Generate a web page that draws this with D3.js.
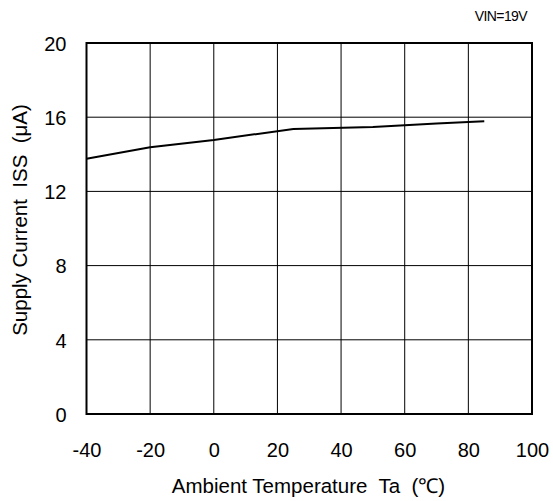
<!DOCTYPE html>
<html><head><meta charset="utf-8">
<script src="https://cdn.jsdelivr.net/npm/d3@7"></script>
<style>body{margin:0;background:#fff}svg{display:block}text{font-family:"Liberation Sans",Arial,sans-serif;fill:#000;white-space:pre}</style>
</head><body>
<svg id="c" width="553" height="501"></svg>
<script>
const temps = [-40, -20, 0, 25, 50, 70, 85];
const iss = [13.76, 14.38, 14.77, 15.37, 15.47, 15.66, 15.78];
const xTicks = [-40, -20, 0, 20, 40, 60, 80, 100];
const yTicks = [0, 4, 8, 12, 16, 20];
const xTitle = "Ambient Temperature  Ta  (\u2103)";
const yTitle = "Supply Current  ISS  (\u03bcA)";
const note = "VIN=19V";

const svg = d3.select("#c");
const L = 86.5, R = 532, T = 43, B = 414;
const x = d3.scaleLinear().domain([-40, 100]).range([L, R]);
const y = d3.scaleLinear().domain([0, 20]).range([B, T]);
const FF = '"Liberation Sans",Arial,sans-serif';

const g = svg.append("g");
g.selectAll("line.vx").data(xTicks).join("line")
  .attr("x1", d => x(d)).attr("x2", d => x(d)).attr("y1", T).attr("y2", B)
  .attr("stroke", "#000").attr("stroke-width", 1);
g.selectAll("line.hy").data(yTicks).join("line")
  .attr("y1", d => y(d)).attr("y2", d => y(d)).attr("x1", L).attr("x2", R)
  .attr("stroke", "#000").attr("stroke-width", 1);
g.append("rect").attr("x", L).attr("y", T).attr("width", R - L).attr("height", B - T)
  .attr("fill", "none").attr("stroke", "#000").attr("stroke-width", 2);

const xAxis = d3.axisBottom(x).tickValues(xTicks).tickSize(0).tickPadding(0).tickFormat(d => String(d));
const xa = svg.append("g").attr("transform", `translate(0,${B})`).call(xAxis);
xa.select(".domain").remove();
xa.selectAll("text").attr("font-size", 20).attr("dy", null).attr("y", 42.5)
  .style("font-family", FF);

const yAxis = d3.axisLeft(y).tickValues(yTicks).tickSize(0).tickPadding(0).tickFormat(d => String(d));
const ya = svg.append("g").attr("transform", `translate(${L},0)`).call(yAxis);
ya.select(".domain").remove();
ya.selectAll("text").attr("font-size", 20).attr("x", -20).attr("dy", "0.36em")
  .style("font-family", FF);

svg.append("path").datum(temps.map((t, i) => [t, iss[i]]))
  .attr("d", d3.line().x(d => x(d[0])).y(d => y(d[1])))
  .attr("fill", "none").attr("stroke", "#000").attr("stroke-width", 2);

svg.append("text").attr("x", 308.5).attr("y", 493).attr("text-anchor", "middle")
  .attr("font-size", 20.5).text(xTitle);
svg.append("text").attr("transform", `translate(27,220) rotate(-90)`)
  .attr("text-anchor", "middle").attr("font-size", 20.5).text(yTitle);
svg.append("text").attr("x", 527).attr("y", 20.5).attr("text-anchor", "end")
  .attr("font-size", 14).attr("letter-spacing", -0.6).text(note);
</script>
</body></html>
